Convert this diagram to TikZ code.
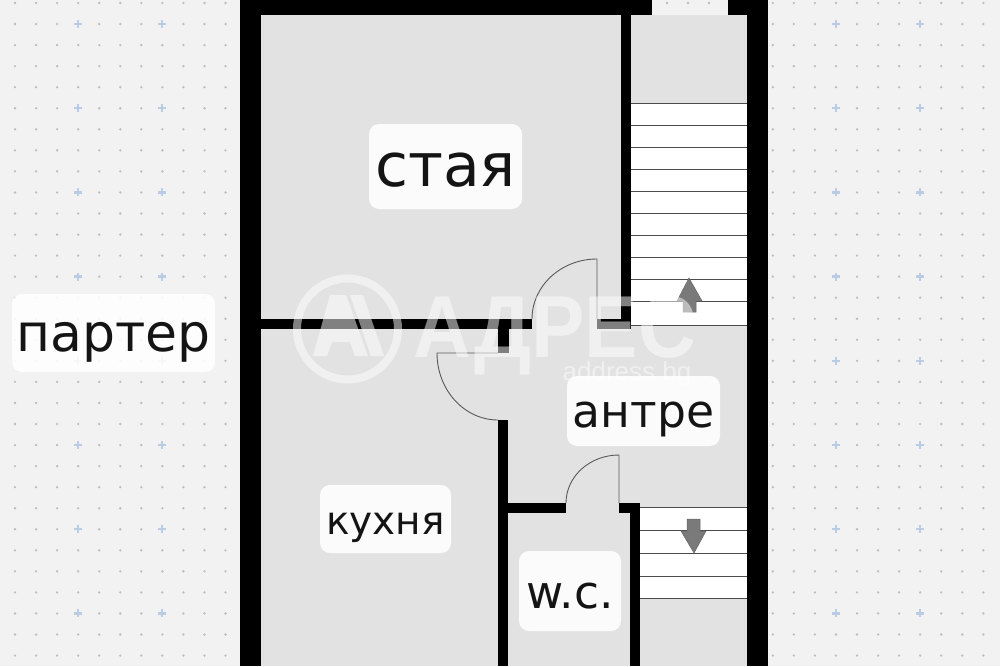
\documentclass[tikz,border=0pt]{standalone}
\usepackage{fontspec}
\setmainfont{DejaVu Sans}
\newfontfamily\markfont{Liberation Sans}
\definecolor{paper}{HTML}{F2F2F2}
\definecolor{floorgrey}{HTML}{E2E2E2}
\definecolor{dotgrey}{HTML}{BDBDBD}
\definecolor{plusblue}{HTML}{B9CCE4}
\definecolor{arrowgrey}{HTML}{7A7A7A}
\tikzset{
    wall/.style={fill=black},
    stairline/.style={draw=black!70,line width=0.8pt},
    doorleaf/.style={draw=black!65,line width=0.9pt},
    arrowmark/.style={fill=arrowgrey,draw=black!60,line width=0.5pt},
    roomlabel/.style={fill=white,fill opacity=0.88,text opacity=1,rounded corners=10pt,inner sep=0pt,text=black!92},
    watermark/.style={white,opacity=0.5},
    marktext/.style={text=white,text opacity=0.5,inner sep=0pt,anchor=base,text depth=0pt},
}
\begin{document}
\begin{tikzpicture}[x=1pt,y=-1pt]

\def\dotstep{21.05}
\def\radi{1.3}
\def\plusarm{4}

\useasboundingbox (0,0) rectangle (1000,666);

%paper
\fill[paper] (0,0) rectangle (1000,666);

%dots
\foreach \i in{0, 1, ..., 47}{
    \foreach \j in{0, 1, ..., 31}{
        \fill[dotgrey] (15+\i*\dotstep, 3+\j*\dotstep) circle (\radi);
    }
}

%blue crosses
\foreach \i in{0, 1, ..., 11}{
    \foreach \j in{0, 1, ..., 7}{
        \draw[plusblue, line width=2.4pt] (78+\i*84.2-\plusarm, 24+\j*84.2) -- (78+\i*84.2+\plusarm, 24+\j*84.2);
        \draw[plusblue, line width=2.4pt] (78+\i*84.2, 24+\j*84.2-\plusarm) -- (78+\i*84.2, 24+\j*84.2+\plusarm);
    }
}

%floor
\fill[floorgrey] (240,0) rectangle (768,666);
\fill[paper] (652,0) rectangle (728,15);
\foreach \i in{667, 688, 709}{
    \fill[dotgrey] (\i,3) circle (\radi);
}

%upper stairs
\fill[white] (631,103) rectangle (747,325);
\foreach \y in{103, 125, 147, 169, 191, 213, 235, 257, 279, 301, 325}{
    \draw[stairline] (631,\y) -- (747,\y);
}
\draw[arrowmark] (689,278) -- (702,301) -- (696,301) -- (696,312) -- (683,312) -- (683,301) -- (677,301) -- cycle;

%lower stairs
\fill[white] (640,507) rectangle (747,598);
\foreach \y in{507, 530, 553, 576, 598}{
    \draw[stairline] (640,\y) -- (747,\y);
}
\draw[arrowmark] (694,553) -- (706,531) -- (700,531) -- (700,519) -- (687,519) -- (687,531) -- (681,531) -- cycle;

%outer walls
\fill[wall] (240,0) rectangle (261,666);
\fill[wall] (747,0) rectangle (768,666);
\fill[wall] (240,0) rectangle (652,15);
\fill[wall] (728,0) rectangle (768,15);

%inner walls
\fill[wall] (621,15) rectangle (631,329);
\fill[wall] (261,319) rectangle (532,329);
\fill[wall] (597,319) rectangle (621,329);
\fill[wall] (498,329) rectangle (509,353);
\fill[wall] (498,420) rectangle (508,666);
\fill[wall] (508,503) rectangle (566,513);
\fill[wall] (619,503) rectangle (640,513);
\fill[wall] (630,513) rectangle (640,666);

%doors
\draw[doorleaf] (532,319) arc (180:270:65 and 60) -- (597,319);
\draw[doorleaf] (498,420) arc (90:180:61 and 67) -- (498,353);
\draw[doorleaf] (566,503) arc (180:270:53 and 48) -- (619,503);

%watermark
\draw[watermark, line width=8pt] (347.5,329) circle (50.5);
\fill[watermark] (313,356) -- (330,295) -- (346,295) -- (368,356) -- (355,356) -- (350,342) -- (332,342) -- (327,356) -- cycle;
\fill[watermark] (350,295) -- (363,295) -- (384,356) -- (371,356) -- cycle;
\node[marktext, xscale=0.91, font=\markfont\bfseries\fontsize{88}{88}\selectfont] (markname) at (555,357) {АДРЕС};
\node[marktext, font=\markfont\fontsize{26}{26}\selectfont] (markurl) at (627,380) {address.bg};

%labels
\node[roomlabel, minimum width=153, text height=62, text depth=23, font=\fontsize{60}{60}\selectfont] (staya) at (445.5,166.5) {стая};
\node[roomlabel, minimum width=203, text height=57, text depth=21, font=\fontsize{52}{52}\selectfont] (parter) at (113.5,333) {партер};
\node[roomlabel, minimum width=153, text height=51, text depth=19, font=\fontsize{45.6}{46}\selectfont] (antre) at (643.5,411) {антре};
\node[roomlabel, minimum width=131, text height=49, text depth=19, font=\fontsize{39}{39}\selectfont] (kuhnya) at (385.5,519) {кухня};
\node[roomlabel, minimum width=102, text height=57, text depth=23, font=\fontsize{45.5}{46}\selectfont] (wc) at (570,591) {w.c.};

\end{tikzpicture}
\end{document}
